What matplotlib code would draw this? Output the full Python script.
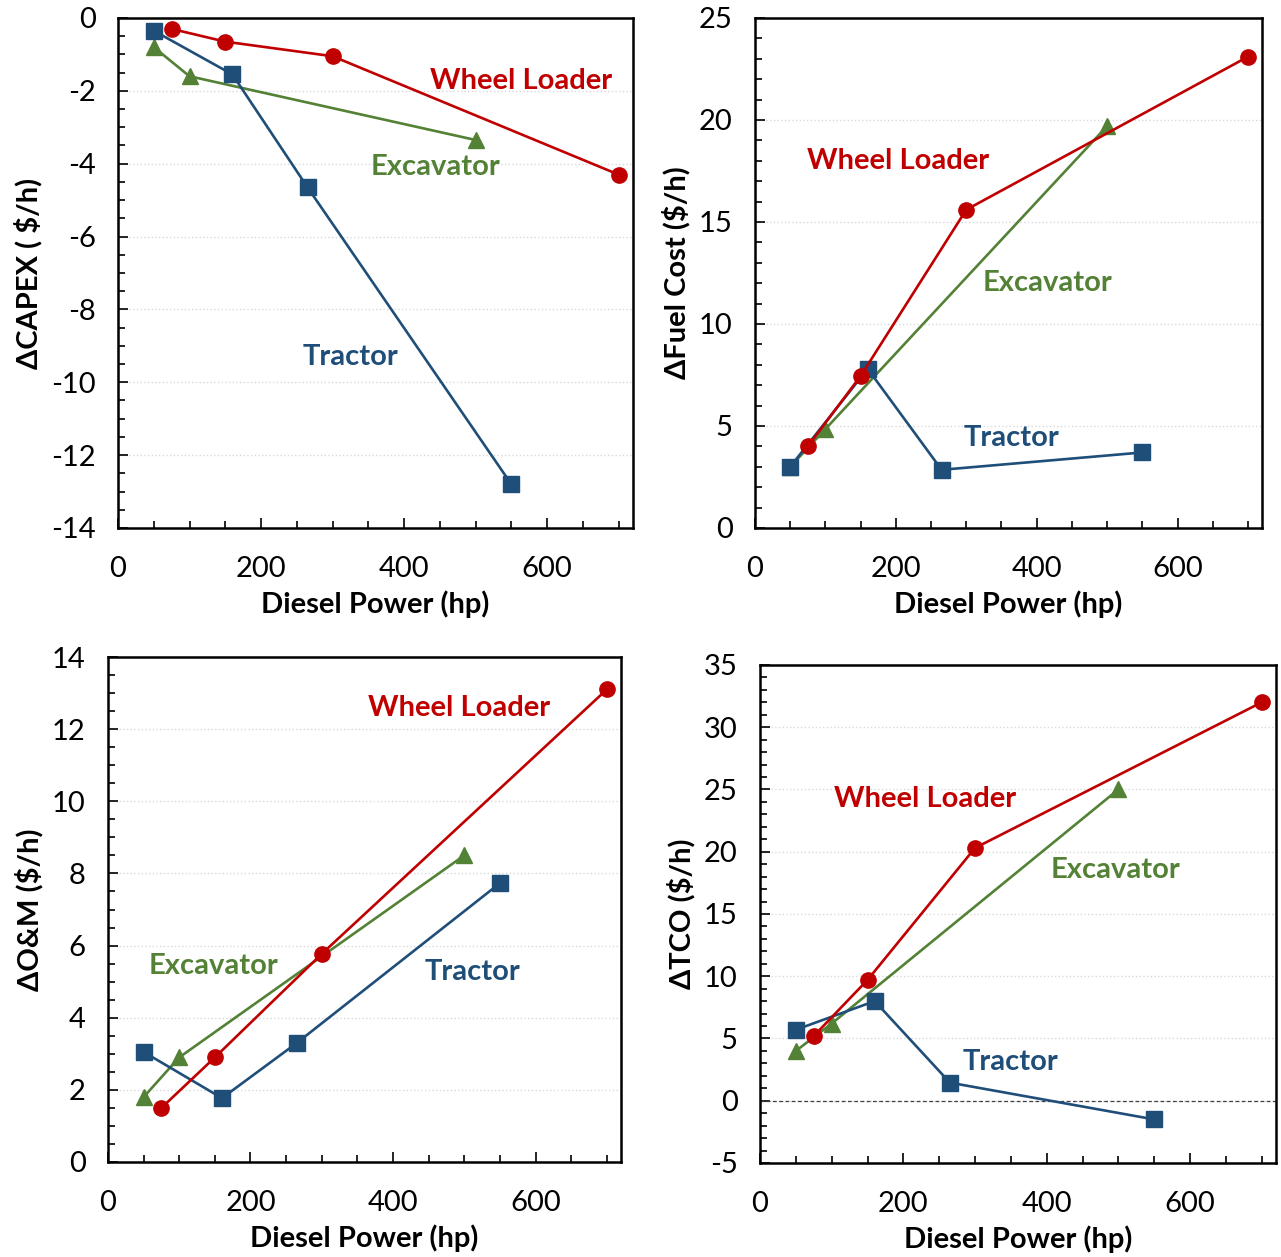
import matplotlib
matplotlib.use("Agg")
import matplotlib.pyplot as plt
from matplotlib.ticker import MultipleLocator
import numpy as np

plt.rcParams['font.family'] = ['Lato', 'DejaVu Sans']
plt.rcParams['axes.unicode_minus'] = False

RED = "#c00000"
GREEN = "#538135"
BLUE = "#1f4e79"

# x positions (diesel power, hp)
wl_hp = [75, 150, 300, 700]
tr_hp = [50, 160, 265, 550]
ex_hp = [50, 100, 500]

# ΔCAPEX ($/h)
capex_wl = [-0.3, -0.65, -1.05, -4.3]
capex_tr = [-0.35, -1.55, -4.65, -12.8]
capex_ex = [-0.8, -1.6, -3.35]

# ΔFuel cost ($/h)
fuel_wl = [4.0, 7.45, 15.6, 23.1]
fuel_tr = [3.0, 7.8, 2.85, 3.7]
fuel_ex = [3.0, 4.85, 19.7]

# ΔO&M ($/h)
om_wl = [1.5, 2.9, 5.77, 13.1]
om_tr = [3.05, 1.77, 3.3, 7.73]
om_ex = [1.8, 2.9, 8.5]

# ΔTCO ($/h)
tco_wl = [5.2, 9.7, 20.3, 32.0]
tco_tr = [5.7, 8.0, 1.45, -1.5]
tco_ex = [4.0, 6.2, 25.0]

panels = [
    dict(rect=[0.0921, 0.5800, 0.4020, 0.4057], ylabel="ΔCAPEX ( $/h)",
         ylim=(-14, 0), major=2, minor=0.5,
         wl=capex_wl, tr=capex_tr, ex=capex_ex,
         lbl_wl=(564, -1.73), lbl_ex=(444, -4.09), lbl_tr=(325, -9.3), zero=False),
    dict(rect=[0.5894, 0.5800, 0.3958, 0.4057], ylabel="ΔFuel Cost ($/h)",
         ylim=(0, 25), major=5, minor=1,
         wl=fuel_wl, tr=fuel_tr, ex=fuel_ex,
         lbl_wl=(203, 18.0), lbl_ex=(416, 12.0), lbl_tr=(364, 4.4), zero=False),
    dict(rect=[0.0843, 0.0756, 0.4005, 0.4017], ylabel="ΔO&M ($/h)",
         ylim=(0, 14), major=2, minor=0.5,
         wl=om_wl, tr=om_tr, ex=om_ex,
         lbl_wl=(492, 12.6), lbl_ex=(148, 5.43), lbl_tr=(511, 5.27), zero=False),
    dict(rect=[0.5933, 0.0748, 0.4028, 0.3962], ylabel="ΔTCO ($/h)",
         ylim=(-5, 35), major=5, minor=1,
         wl=tco_wl, tr=tco_tr, ex=tco_ex,
         lbl_wl=(230, 24.26), lbl_ex=(496, 18.55), lbl_tr=(350, 3.13), zero=True),
]

fig = plt.figure(figsize=(12.81, 12.57), dpi=100)

for p in panels:
    ax = fig.add_axes(p["rect"])
    ax.plot(ex_hp, p["ex"], color=GREEN, lw=1.9, marker="^", ms=11, zorder=3)
    ax.plot(wl_hp, p["wl"], color=RED, lw=1.9, marker="o", ms=11, zorder=4)
    ax.plot(tr_hp, p["tr"], color=BLUE, lw=1.9, marker="s", ms=11, zorder=3)

    ax.set_xlim(0, 720)
    ax.set_ylim(*p["ylim"])
    ax.xaxis.set_major_locator(MultipleLocator(200))
    ax.xaxis.set_minor_locator(MultipleLocator(50))
    ax.yaxis.set_major_locator(MultipleLocator(p["major"]))
    ax.yaxis.set_minor_locator(MultipleLocator(p["minor"]))
    ax.tick_params(which="both", direction="in", top=False, right=False, width=1.2)
    ax.tick_params(which="major", length=7, labelsize=21)
    ax.tick_params(which="minor", length=5)
    ax.tick_params(axis="x", which="major", pad=20)
    ax.tick_params(axis="y", which="major", pad=16)
    for s in ax.spines.values():
        s.set_linewidth(1.8)
    ax.grid(axis="y", which="major", color="#d9d9d9", linestyle=":", lw=1)
    ax.set_axisbelow(True)
    if p["zero"]:
        ax.axhline(0, color="#404040", lw=0.9, ls=(0, (3, 2)), zorder=2)

    ax.set_xlabel("Diesel Power (hp)", fontsize=21, fontweight="bold", labelpad=6)
    ax.set_ylabel(p["ylabel"], fontsize=21, fontweight="bold", labelpad=6)

    ax.text(*p["lbl_wl"], "Wheel Loader", color=RED, fontsize=21, fontweight="bold",
            ha="center", va="center")
    ax.text(*p["lbl_ex"], "Excavator", color=GREEN, fontsize=21, fontweight="bold",
            ha="center", va="center")
    ax.text(*p["lbl_tr"], "Tractor", color=BLUE, fontsize=21, fontweight="bold",
            ha="center", va="center")

fig.savefig("out.png", dpi=100)
